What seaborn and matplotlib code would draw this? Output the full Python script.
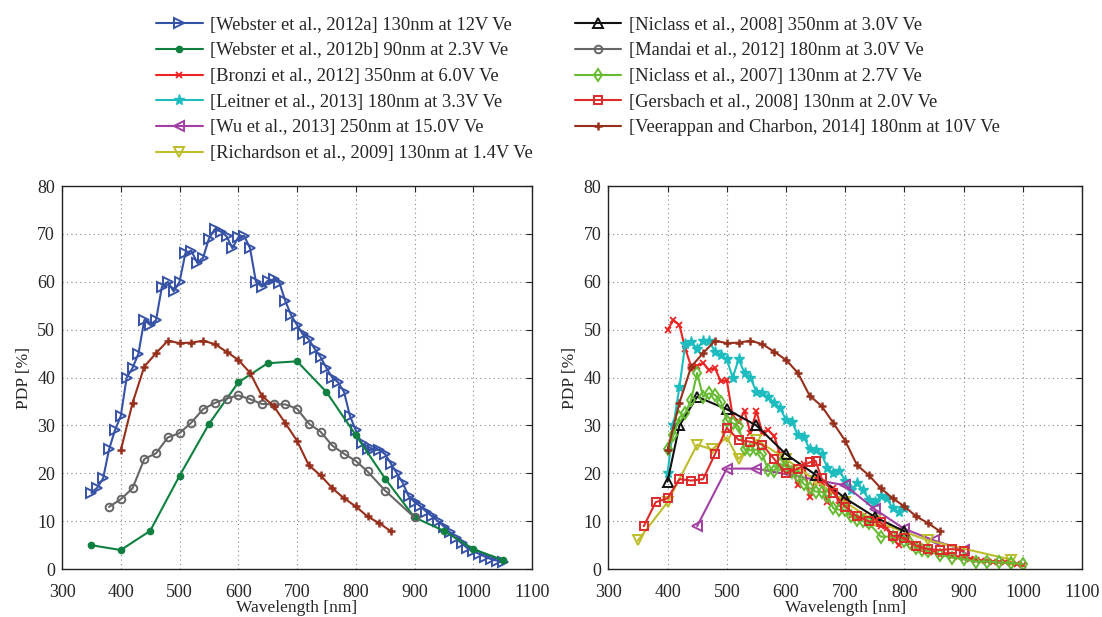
import numpy as np
import pandas as pd
import matplotlib
matplotlib.use("Agg")
import matplotlib.pyplot as plt
import seaborn as sns

# ---------------- data (wavelength [nm], PDP [%]) ----------------
webster_a_wl = [350, 360, 370, 380, 390, 400, 410, 420, 430, 440, 450, 460, 470, 480, 490,
                500, 510, 520, 530, 540, 550, 560, 570, 580, 590, 600, 610, 620, 630, 640,
                650, 660, 670, 680, 690, 700, 710, 720, 730, 740, 750, 760, 770, 780, 790,
                800, 810, 820, 830, 840, 850, 860, 870, 880, 890, 900, 910, 920, 930, 940,
                950, 960, 970, 980, 990, 1000, 1010, 1020, 1030, 1040, 1050]
webster_a_pdp = [16, 17, 19, 25, 29, 32, 40, 42, 45, 52, 51, 52, 59, 60, 58,
                 60, 66, 66.5, 64, 65, 69, 71, 70.5, 69.5, 67, 69.3, 69.6, 67, 60, 59,
                 60.2, 60.5, 59.8, 56, 53, 51, 49, 48, 46, 44.3, 42, 40, 39, 37, 32,
                 29, 26.3, 25, 25, 24.9, 24, 22, 20, 18, 15.2, 14, 13.1, 12, 11, 10,
                 8.9, 7.7, 6.5, 5.4, 4.4, 3.7, 3.2, 2.6, 2.1, 1.8, 1.4]

webster_b_wl = [350, 400, 450, 500, 550, 600, 650, 700, 750, 800, 850, 900, 950, 1000, 1050]
webster_b_pdp = [5, 4, 8, 19.5, 30.3, 39, 43, 43.4, 37, 28, 18.9, 10.8, 8, 4.2, 1.9]

mandai_wl = [380, 400, 420, 440, 460, 480, 500, 520, 540, 560, 580, 600, 620, 640, 660,
             680, 700, 720, 740, 760, 780, 800, 820, 850, 900]
mandai_pdp = [13, 14.6, 16.9, 23, 24.2, 27.5, 28.4, 30.6, 33.4, 34.7, 35.6, 36.3, 35.5, 34.5, 34.4,
              34.4, 33.5, 30.4, 28.7, 25.8, 24.1, 22.6, 20.4, 16.4, 10.8]

veerappan_wl = [400, 420, 440, 460, 480, 500, 520, 540, 560, 580, 600, 620, 640, 660, 680,
                700, 720, 740, 760, 780, 800, 820, 840, 860]
veerappan_pdp = [24.8, 34.7, 42.3, 45.1, 47.7, 47.2, 47.3, 47.7, 47, 45.4, 43.7, 41, 36.2, 34.1, 30.5,
                 26.8, 21.7, 19.6, 16.9, 14.8, 13.1, 11, 9.6, 7.9]

bronzi_wl = [400, 410, 420, 430, 440, 450, 460, 470, 480, 490, 500, 510, 520, 530, 540,
             550, 560, 570, 580, 590, 600, 610, 620, 630, 640, 650, 660, 670, 680, 690,
             700, 710, 720, 730, 740, 750, 760, 770, 780, 790, 800, 810, 820, 830, 840,
             850, 860, 870, 880, 890, 900, 910, 920, 930, 940, 950, 960, 970, 980, 990, 1000]
bronzi_pdp = [50, 52, 51, 46, 42.3, 42.5, 43, 41.6, 42, 39.2, 39.5, 32, 30.8, 33, 28.4,
              33, 28.5, 29, 27.8, 24, 22, 21, 17.5, 22, 15, 19, 18, 14, 17, 13.5,
              14.5, 11, 10.5, 11, 9.5, 10.5, 9, 8.5, 6.5, 5, 6, 5.5, 4.5, 4, 3.5,
              3.5, 3, 3.2, 2.8, 2.5, 2.3, 2.2, 2, 1.8, 1.8, 1.6, 1.5, 1.4, 1.3, 1.1, 0.8]

leitner_wl = [400, 410, 420, 430, 440, 450, 460, 470, 480, 490, 500, 510, 520, 530, 540,
              550, 560, 570, 580, 590, 600, 610, 620, 630, 640, 650, 660, 670, 680, 690,
              700, 710, 720, 730, 740, 750, 760, 770, 780, 790, 800]
leitner_pdp = [20, 30, 38, 47, 47.5, 46, 47.7, 47.7, 45.4, 44.7, 43.8, 40, 43.8, 41, 40,
               37, 36.7, 35.9, 34.8, 33.6, 31.2, 30.8, 28, 27.7, 25, 24.8, 24, 21.2, 20, 20.5,
               18.5, 16.5, 18, 16.5, 14.5, 14, 15.2, 14.8, 12.7, 12, 12.8]

wu_wl = [450, 500, 550, 700, 750, 800, 850, 900]
wu_pdp = [9, 21, 21, 17.5, 12.5, 8.4, 6, 4]

richardson_wl = [350, 400, 450, 475, 500, 520, 550, 600, 650, 700, 750, 840, 980]
richardson_pdp = [6, 14, 26, 25, 27.5, 23, 27, 23, 18.5, 14, 10, 6, 2]

niclass08_wl = [400, 420, 450, 500, 550, 600, 650, 700, 750, 800]
niclass08_pdp = [18.3, 30, 36, 33.4, 30, 24, 19.7, 14.8, 10.9, 7.9]

niclass07_wl = [400, 410, 420, 430, 440, 450, 460, 470, 480, 490, 500, 510, 520, 530, 540,
                550, 560, 570, 580, 590, 600, 610, 620, 630, 640, 650, 660, 670, 680, 690,
                700, 710, 720, 730, 740, 760, 780, 800, 810, 820, 830, 840, 860, 880, 900,
                920, 940, 960, 980, 1000]
niclass07_pdp = [25, 28, 31.7, 32.6, 35.4, 41, 36, 36.7, 36.4, 35, 31, 30.5, 29.8, 25, 24.8,
                 25, 24, 20.7, 20.6, 22, 21.4, 20.2, 19.5, 17.8, 16.9, 16.2, 16.2, 15.2, 12.7, 12.4,
                 12.4, 11, 10.3, 10, 9.6, 6.8, 6.8, 5.8, 5.4, 4.4, 4, 3.7, 3, 2.4, 2.1,
                 1.6, 1.6, 1.4, 1.3, 1.1]

gersbach_wl = [360, 380, 400, 420, 440, 460, 480, 500, 520, 540, 560, 580, 600, 620, 640,
               650, 660, 680, 700, 720, 740, 760, 780, 800, 820, 840, 860, 880, 900]
gersbach_pdp = [9, 14, 14.8, 18.8, 18.5, 18.8, 24, 29.5, 27, 26.6, 26, 23, 20, 21, 22.3,
                22.6, 19, 16, 13, 11, 10, 9.8, 7, 6.5, 4.9, 4.2, 4, 4.2, 3.8]

# ---------------- series definitions ----------------
series = {
    "[Webster et al., 2012a] 130nm at 12V Ve": (webster_a_wl, webster_a_pdp),
    "[Webster et al., 2012b] 90nm at 2.3V Ve": (webster_b_wl, webster_b_pdp),
    "[Bronzi et al., 2012] 350nm at 6.0V Ve": (bronzi_wl, bronzi_pdp),
    "[Leitner et al., 2013] 180nm at 3.3V Ve": (leitner_wl, leitner_pdp),
    "[Wu et al., 2013] 250nm at 15.0V Ve": (wu_wl, wu_pdp),
    "[Richardson et al., 2009] 130nm at 1.4V Ve": (richardson_wl, richardson_pdp),
    "[Niclass et al., 2008] 350nm at 3.0V Ve": (niclass08_wl, niclass08_pdp),
    "[Mandai et al., 2012] 180nm at 3.0V Ve": (mandai_wl, mandai_pdp),
    "[Niclass et al., 2007] 130nm at 2.7V Ve": (niclass07_wl, niclass07_pdp),
    "[Gersbach et al., 2008] 130nm at 2.0V Ve": (gersbach_wl, gersbach_pdp),
    "[Veerappan and Charbon, 2014] 180nm at 10V Ve": (veerappan_wl, veerappan_pdp),
}

styles = {
    "[Webster et al., 2012a] 130nm at 12V Ve": dict(color="#3652a6", marker=">", mfc="none", ms=7, mew=1.4),
    "[Webster et al., 2012b] 90nm at 2.3V Ve": dict(color="#0f8040", marker="o", mfc="#0f8040", ms=4.5, mew=1.0),
    "[Bronzi et al., 2012] 350nm at 6.0V Ve": dict(color="#ee2424", marker="x", mfc="none", ms=4, mew=1.3),
    "[Leitner et al., 2013] 180nm at 3.3V Ve": dict(color="#1cbcbf", marker="*", mfc="#1cbcbf", ms=8, mew=1.0),
    "[Wu et al., 2013] 250nm at 15.0V Ve": dict(color="#a13fa3", marker="<", mfc="none", ms=7, mew=1.4),
    "[Richardson et al., 2009] 130nm at 1.4V Ve": dict(color="#bdbd2c", marker="v", mfc="none", ms=7, mew=1.4),
    "[Niclass et al., 2008] 350nm at 3.0V Ve": dict(color="#111111", marker="^", mfc="none", ms=7, mew=1.4),
    "[Mandai et al., 2012] 180nm at 3.0V Ve": dict(color="#666666", marker="o", mfc="none", ms=5.5, mew=1.4),
    "[Niclass et al., 2007] 130nm at 2.7V Ve": dict(color="#66bb33", marker="d", mfc="none", ms=6, mew=1.4),
    "[Gersbach et al., 2008] 130nm at 2.0V Ve": dict(color="#dd2a2a", marker="s", mfc="none", ms=5.5, mew=1.4),
    "[Veerappan and Charbon, 2014] 180nm at 10V Ve": dict(color="#962f1b", marker="+", mfc="#962f1b", ms=5.5, mew=1.8),
}

left_panel = [
    "[Webster et al., 2012a] 130nm at 12V Ve",
    "[Webster et al., 2012b] 90nm at 2.3V Ve",
    "[Mandai et al., 2012] 180nm at 3.0V Ve",
    "[Veerappan and Charbon, 2014] 180nm at 10V Ve",
]
right_panel = [
    "[Bronzi et al., 2012] 350nm at 6.0V Ve",
    "[Leitner et al., 2013] 180nm at 3.3V Ve",
    "[Wu et al., 2013] 250nm at 15.0V Ve",
    "[Richardson et al., 2009] 130nm at 1.4V Ve",
    "[Niclass et al., 2008] 350nm at 3.0V Ve",
    "[Niclass et al., 2007] 130nm at 2.7V Ve",
    "[Gersbach et al., 2008] 130nm at 2.0V Ve",
    "[Veerappan and Charbon, 2014] 180nm at 10V Ve",
]

sns.set_style("white")
plt.rcParams["font.family"] = ["Liberation Serif", "DejaVu Serif"]
plt.rcParams["font.size"] = 12

fig = plt.figure(figsize=(11.02, 6.17), dpi=100)
ax_l = fig.add_axes([0.0563, 0.0775, 0.4265, 0.621])
ax_r = fig.add_axes([0.552, 0.0775, 0.430, 0.621])

handles = {}


def draw(ax, name):
    wl, pdp = series[name]
    df = pd.DataFrame({"Wavelength": wl, "PDP": pdp})
    st = styles[name]
    sns.lineplot(data=df, x="Wavelength", y="PDP", ax=ax, sort=False, estimator=None,
                 color=st["color"], linewidth=1.5, marker=st["marker"],
                 markersize=st["ms"], markerfacecolor=st["mfc"],
                 markeredgecolor=st["color"], markeredgewidth=st["mew"])
    handles[name] = ax.lines[-1]


for name in left_panel:
    draw(ax_l, name)
for name in right_panel:
    draw(ax_r, name)

for ax in (ax_l, ax_r):
    ax.set_xlim(300, 1100)
    ax.set_ylim(0, 80)
    ax.set_xticks([300, 400, 500, 600, 700, 800, 900, 1000, 1100])
    ax.set_yticks([0, 10, 20, 30, 40, 50, 60, 70, 80])
    ax.grid(True, linestyle=(0, (1, 3)), color="#888888", linewidth=0.8)
    ax.tick_params(axis="both", direction="in", top=True, right=True, length=4, labelsize=13)
    ax.tick_params(axis="x", pad=11)
    ax.tick_params(axis="y", pad=5)
    for sp in ax.spines.values():
        sp.set_color("#222222")
        sp.set_linewidth(1.0)
    ax.set_xlabel("Wavelength [nm]", fontsize=12.5, labelpad=-1)
    ax.set_ylabel("PDP [%]", fontsize=12.5, labelpad=4)

order = list(series.keys())
fig.legend([handles[n] for n in order], order, loc="upper center",
           bbox_to_anchor=(0.5245, 1.0), ncol=2, frameon=False, fontsize=13.3,
           handlelength=2.5, labelspacing=0.47, columnspacing=2.3, handletextpad=0.4)

fig.savefig("out.png", dpi=100)
